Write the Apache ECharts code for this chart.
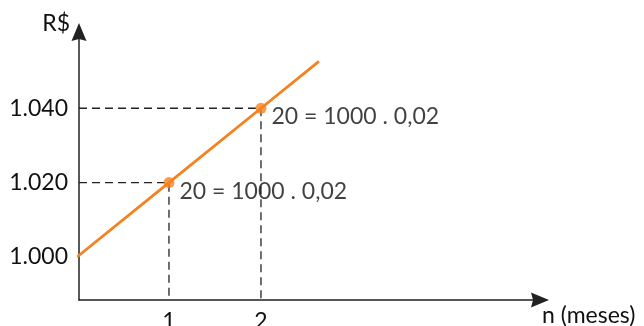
<!DOCTYPE html>
<html>
<head>
<meta charset="utf-8">
<script src="https://cdn.jsdelivr.net/npm/echarts@6/dist/echarts.min.js"></script>
<style>
  html, body { margin: 0; padding: 0; background: #fff; }
  #main { width: 644px; height: 326px; }
</style>
</head>
<body>
<div id="main"></div>
<script>
// dados do gráfico
var meses = [0, 1, 2, 2.63];
var montante = [1000, 1020, 1040, 1052.6];
var pontosMes = [1, 2];
var pontosValor = [1020, 1040];
var rotulos = ['20 = 1000 . 0,02', '20 = 1000 . 0,02'];
var ticksY = [1000, 1020, 1040];
var ticksX = [1, 2];

var xMin = 0.022, xMax = 5.033;
var yMin = 988.44, yMax = 1060.5;

var corTexto = '#111';
var laranja = '#f5821f';
var fonte = 'Lato';
var tamanho = 23;
var seta = 'path://M7.5,0 L15,18 L7.5,16 L0,18 Z';

var chart = echarts.init(document.getElementById('main'));

// linhas tracejadas até os eixos
var guias = pontosMes.map(function (m, i) {
    return {
        type: 'line',
        data: [[xMin, pontosValor[i]], [m, pontosValor[i]], [m, yMin]],
        symbol: 'none',
        silent: true,
        z: 1,
        lineStyle: { color: '#222', width: 1.3, type: [8, 5] }
    };
});

var option = {
    animation: false,
    grid: { left: 79, right: 104, top: 32, bottom: 26, outerBoundsMode: 'none', containLabel: false },
    xAxis: {
        type: 'value',
        min: xMin,
        max: xMax,
        name: 'n (meses)',
        nameLocation: 'end',
        nameGap: 2,
        nameTextStyle: { fontFamily: fonte, fontSize: tamanho, color: corTexto, align: 'left', verticalAlign: 'top', padding: [4, 0, 0, 0] },
        axisLine: { onZero: false, lineStyle: { color: '#222', width: 1.5 }, symbol: ['none', seta], symbolSize: [15, 18] },
        axisTick: { show: false },
        splitLine: { show: false },
        axisLabel: { customValues: ticksX, margin: 10, fontFamily: fonte, fontSize: tamanho, color: corTexto }
    },
    yAxis: {
        type: 'value',
        min: yMin,
        max: yMax,
        name: 'R$',
        nameLocation: 'end',
        nameGap: 8,
        nameTextStyle: { fontFamily: fonte, fontSize: tamanho, color: corTexto, align: 'right', verticalAlign: 'middle', padding: [0, 9, 0, 0] },
        axisLine: { onZero: false, lineStyle: { color: '#222', width: 1.5 }, symbol: ['none', seta], symbolSize: [15, 18] },
        axisTick: { show: false },
        splitLine: { show: false },
        axisLabel: {
            customValues: ticksY,
            margin: 11,
            fontFamily: fonte,
            fontSize: tamanho,
            color: corTexto,
            formatter: function (v) { return (v / 1000).toFixed(3); }
        }
    },
    series: guias.concat([
        {
            type: 'line',
            data: meses.map(function (m, i) { return [m, montante[i]]; }),
            symbol: 'none',
            z: 2,
            lineStyle: { color: laranja, width: 2.8 }
        },
        {
            type: 'scatter',
            data: pontosMes.map(function (m, i) { return [m, pontosValor[i]]; }),
            symbolSize: 11,
            z: 3,
            itemStyle: { color: laranja },
            label: {
                show: true,
                position: 'right',
                offset: [0, 8.5],
                fontFamily: fonte,
                fontSize: tamanho,
                color: corTexto,
                formatter: function (p) { return rotulos[p.dataIndex]; }
            }
        }
    ])
};

chart.setOption(option);
</script>
</body>
</html>
